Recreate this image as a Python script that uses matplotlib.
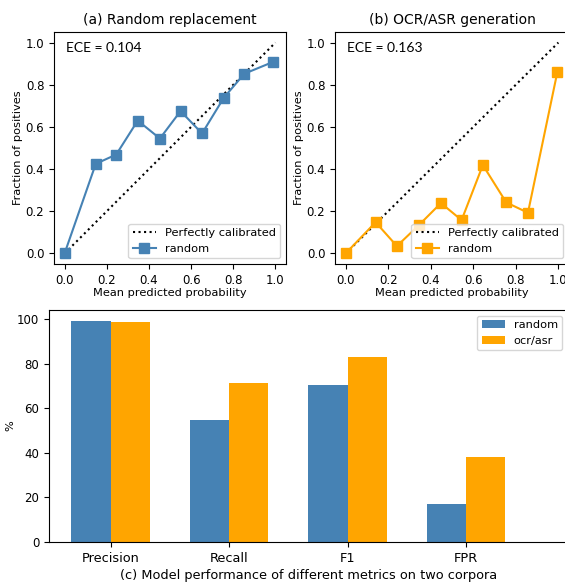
import matplotlib
matplotlib.use("Agg")
import matplotlib.pyplot as plt
import numpy as np

# calibration curves (mean predicted probability, fraction of positives)
prob_random = [0.0, 0.148, 0.245, 0.347, 0.452, 0.55, 0.652, 0.755, 0.852, 0.986]
frac_random = [0.0, 0.425, 0.469, 0.630, 0.545, 0.675, 0.569, 0.738, 0.852, 0.907]
prob_ocr = [0.0, 0.141, 0.241, 0.344, 0.448, 0.545, 0.645, 0.755, 0.857, 0.995]
frac_ocr = [0.0, 0.148, 0.035, 0.134, 0.239, 0.158, 0.419, 0.242, 0.193, 0.859]
ece_random = 0.104
ece_ocr = 0.163

# bar chart
metrics = ["Precision", "Recall", "F1", "FPR"]
bars_random = [99.1, 54.7, 70.4, 17.2]
bars_ocr = [98.5, 71.4, 82.8, 38.1]

blue = "#4682b4"
orange = "#ffa500"
tick_fs = 8.5
label_fs = 8.2

fig = plt.figure(figsize=(5.65, 5.85), dpi=100)
ax1 = fig.add_axes([0.0956, 0.5487, 0.4106, 0.3966])
ax2 = fig.add_axes([0.5929, 0.5487, 0.4142, 0.3966])
ax3 = fig.add_axes([0.0867, 0.0735, 0.9186, 0.3966])


def calib_plot(ax, x, y, color, title, ece):
    ax.plot([0, 1], [0, 1], "k:", label="Perfectly calibrated")
    ax.plot(x, y, "s-", color=color, markersize=6.5, linewidth=1.5, label="random")
    ax.set_xlim(-0.05, 1.05)
    ax.set_ylim(-0.05, 1.05)
    ax.set_xticks(np.arange(0, 1.01, 0.2))
    ax.set_yticks(np.arange(0, 1.01, 0.2))
    ax.tick_params(labelsize=tick_fs)
    ax.set_xlabel("Mean predicted probability", fontsize=label_fs, labelpad=1)
    ax.set_ylabel("Fraction of positives", fontsize=label_fs, labelpad=2)
    ax.set_title(title, fontsize=10, pad=6)
    ax.legend(loc="lower right", fontsize=label_fs)
    ax.text(0.05, 0.93, "ECE = %.3f" % ece, transform=ax.transAxes,
            fontsize=10, family="Lato", va="center")


calib_plot(ax1, prob_random, frac_random, blue, "(a) Random replacement", ece_random)
calib_plot(ax2, prob_ocr, frac_ocr, orange, "(b) OCR/ASR generation", ece_ocr)

x = np.arange(len(metrics))
w = 0.33
ax3.bar(x - w / 2, bars_random, w, color=blue, label="random")
ax3.bar(x + w / 2, bars_ocr, w, color=orange, label="ocr/asr")
ax3.set_xticks(x)
ax3.set_xticklabels(metrics, fontsize=9.3)
ax3.tick_params(axis="y", labelsize=tick_fs)
ax3.set_xlim(-0.52, 3.86)
ax3.set_ylim(0, 104)
ax3.set_ylabel("%", fontsize=label_fs, labelpad=1)
ax3.set_xlabel("(c) Model performance of different metrics on two corpora",
               fontsize=9.3, labelpad=3)
ax3.legend(loc="upper right", fontsize=label_fs)

fig.savefig("out.png", dpi=100)
